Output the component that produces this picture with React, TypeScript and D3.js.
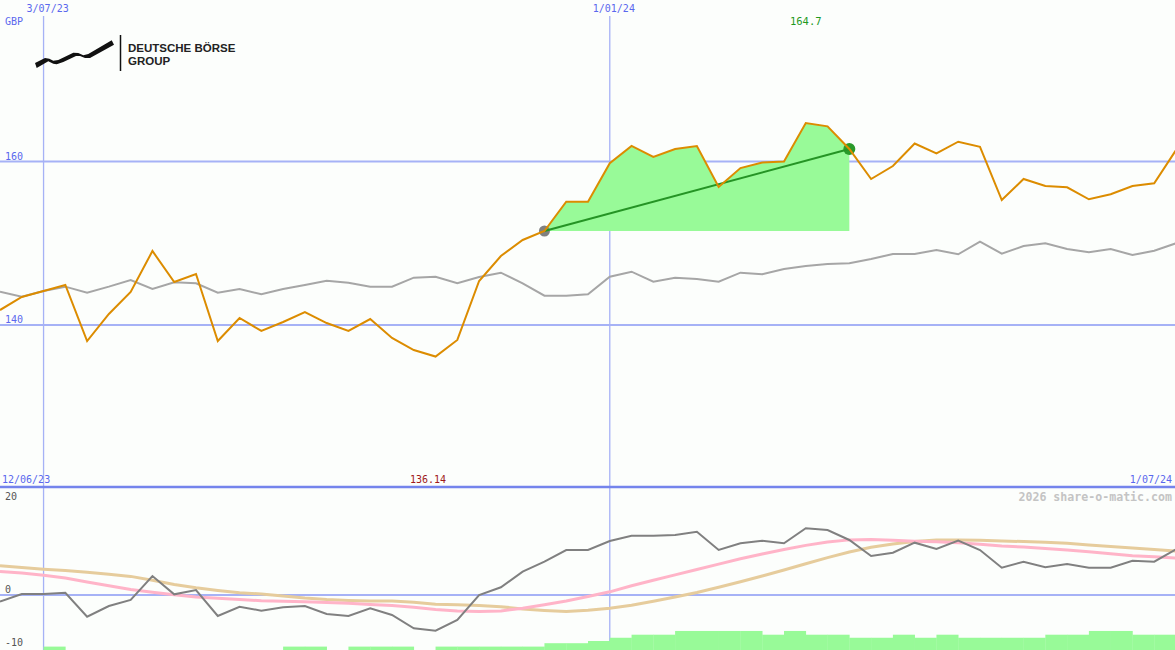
import React from "react";
import * as d3 from "d3";

// ---- data (weekly, starting Monday 19 Jun 2023) ----
const price = [
  141.83, 143.43, 144.16, 144.9, 138.04, 141.35, 144.04, 149.05, 145.26, 146.24,
  138.04, 140.86, 139.27, 140.37, 141.59, 140.24, 139.27, 140.73, 138.41, 136.94,
  136.14, 138.17, 145.38, 148.44, 150.4, 151.5, 155.08, 155.08, 159.8, 161.9,
  160.55, 161.53, 161.9, 156.88, 159.2, 159.88, 160.0, 164.7, 164.3, 161.53,
  157.86, 159.45, 162.2, 161.0, 162.42, 161.8, 155.29, 157.86, 157.0, 156.84,
  155.38, 155.99, 157.0, 157.33, 161.4,
];
const benchmark = [
  144.07, 143.46, 144.16, 144.69, 143.95, 144.69, 145.5, 144.4, 145.22, 145.1,
  143.95, 144.4, 143.76, 144.4, 144.89, 145.42, 145.17, 144.69, 144.69, 145.79,
  145.91, 145.1, 145.87, 146.4, 145.1, 143.58, 143.58, 143.76, 145.91, 146.52,
  145.3, 145.79, 145.63, 145.3, 146.4, 146.2, 146.85, 147.22, 147.46, 147.55,
  148.07, 148.69, 148.69, 149.17, 148.65, 150.19, 148.72, 149.66, 150.0, 149.3,
  148.9, 149.3, 148.56, 149.09, 150.0,
];
const momentum = [
  -1.26, 0.19, 0.19, 0.43, -4.09, -2.08, -0.94, 3.58, 0.13, 0.94,
  -3.96, -2.21, -2.96, -2.32, -2.08, -3.58, -3.96, -2.51, -3.77, -6.28,
  -6.74, -4.72, 0.0, 1.45, 4.4, 6.28, 8.49, 8.49, 10.19, 11.19,
  11.19, 11.32, 11.94, 8.49, 9.75, 10.25, 9.75, 12.6, 12.26, 10.38,
  7.36, 7.98, 9.87, 8.68, 10.25, 8.49, 5.15, 6.28, 5.23, 5.85,
  5.15, 5.15, 6.47, 6.28, 8.62,
];
const avgSlow = [
  5.53, 5.19, 4.85, 4.6, 4.28, 3.92, 3.51, 2.77, 2.0, 1.38,
  0.87, 0.43, 0.19, -0.19, -0.57, -0.85, -1.02, -1.13, -1.13, -1.38,
  -1.75, -1.85, -2.0, -2.21, -2.62, -2.92, -3.13, -2.87, -2.49, -1.94,
  -1.19, -0.38, 0.47, 1.45, 2.51, 3.58, 4.72, 5.89, 7.06, 8.11,
  9.0, 9.62, 10.08, 10.38, 10.38, 10.32, 10.19, 10.09, 9.96, 9.77,
  9.43, 9.13, 8.85, 8.57, 8.3,
];
const avgFast = [
  4.42, 4.13, 3.74, 3.21, 2.45, 1.74, 1.02, 0.53, 0.06, -0.36,
  -0.62, -0.87, -1.08, -1.19, -1.28, -1.42, -1.57, -1.77, -2.0, -2.32,
  -2.72, -3.02, -3.11, -3.02, -2.49, -1.85, -1.13, -0.3, 0.6, 1.75,
  2.77, 3.79, 4.81, 5.83, 6.85, 7.75, 8.58, 9.36, 10.0, 10.4,
  10.49, 10.32, 10.15, 10.04, 9.85, 9.57, 9.25, 9.04, 8.79, 8.51,
  8.15, 7.77, 7.42, 7.21, 6.98,
];
const bars = [
  0, 0, 1, 0, 0, 0, 0, 0, 0, 0,
  0, 0, 0, 1, 1, 0, 1, 1, 1, 0,
  1, 1, 1, 1, 1, 2, 2, 2.65, 3.6, 4.5,
  4.5, 5.6, 5.6, 5.6, 5.6, 4.5, 5.6, 4.5, 4.5, 3.6,
  3.6, 4.5, 3.6, 4.5, 3.6, 3.6, 3.6, 3.6, 4.5, 4.5,
  5.6, 5.6, 4.5, 4.5, 0,
];
const priceTicks = [160, 140];
const oscTicks = [20, 0, -10];
const gridDates = [new Date(2023, 6, 3), new Date(2024, 0, 1)];
const gridDateLabels = ["3/07/23", "1/01/24"];
const trendStart = 25;
const trendEnd = 39;
const maxLabel = "164.7";
const minLabel = "136.14";
const startLabel = "12/06/23";
const endLabel = "1/07/24";
const currency = "GBP";
const watermark = "2026 share-o-matic.com";

const W = 1175;
const H = 650;
const SEP = 487;
const MONO = "'DejaVu Sans Mono', monospace";

export default function App() {
  const start = new Date(2023, 5, 19);
  const dates = price.map((_, i) => d3.timeWeek.offset(start, i));
  const x = d3.scaleTime().domain([dates[0], dates[dates.length - 1]]).range([0, 1176]);
  const y = d3.scaleLinear().domain([140, 160]).range([325, 161.5]);
  const yo = d3.scaleLinear().domain([-10, 0]).range([648, 595]);
  const yb = d3.scaleLinear().domain([0, 1]).range([0, 3.4]);

  const line = (vals: number[], ys: d3.ScaleLinear<number, number>) =>
    d3.line<number>().x((_, i) => x(dates[i])).y((v) => ys(v))(vals) || "";

  const idx = d3.range(trendStart, trendEnd + 1);
  const area =
    d3
      .area<number>()
      .x((i) => x(dates[i]))
      .y0(y(price[trendStart]))
      .y1((i) => y(price[i]))(idx) || "";

  const x0 = x(dates[trendStart]);
  const y0 = y(price[trendStart]);
  const x1 = x(dates[trendEnd]);
  const y1 = y(price[trendEnd]);
  const step = x(dates[1]) - x(dates[0]);

  return (
    <svg
      width={W}
      height={H}
      style={{ position: "absolute", left: 0, top: 0, background: "#fcfefc" }}
    >
      <rect x={0} y={0} width={W} height={H} fill="#fcfefc" />

      {/* price grid */}
      {priceTicks.map((t) => (
        <g key={t}>
          <line x1={0} x2={W} y1={y(t)} y2={y(t)} stroke="#a6b2f6" strokeWidth={2} />
          <text x={5} y={y(t) - 2} fontFamily={MONO} fontSize={10} fill="#5a68ee">
            {t}
          </text>
        </g>
      ))}
      {/* oscillator zero */}
      <line x1={0} x2={W} y1={yo(0)} y2={yo(0)} stroke="#a6b2f6" strokeWidth={2} />

      {/* vertical date lines */}
      {gridDates.map((d, i) => (
        <g key={i}>
          <line
            x1={x(d)}
            x2={x(d)}
            y1={16}
            y2={H}
            stroke="#a6b2f6"
            strokeWidth={1.3}
          />
          <text x={x(d) - 17} y={12} fontFamily={MONO} fontSize={10} fill="#5a68ee">
            {gridDateLabels[i]}
          </text>
        </g>
      ))}

      {/* logo */}
      <g>
        <path
          d="M35,63 L45,58 L49.3,58.7 L53.3,60.7 L58.3,60 L73.3,52.7 L78.3,53 L83.3,55.3 L88.3,54 L111.7,40.3 L114,44.7 L90,58 L85,58 L80,56 L76,56 L63.3,62 L56.7,64.3 L53.3,63.7 L48.3,61.3 L36.7,68 Z"
          fill="#111"
        />
        <line x1={120.5} x2={120.5} y1={35} y2={71} stroke="#111" strokeWidth={1.5} />
        <text
          x={128}
          y={52}
          fontFamily="'Liberation Sans', Arial, sans-serif"
          fontWeight="bold"
          fontSize={11.5}
          fill="#222"
        >
          DEUTSCHE BÖRSE
        </text>
        <text
          x={128}
          y={65}
          fontFamily="'Liberation Sans', Arial, sans-serif"
          fontWeight="bold"
          fontSize={11.5}
          fill="#222"
        >
          GROUP
        </text>
      </g>

      <text x={5} y={25} fontFamily={MONO} fontSize={10} fill="#5a68ee">
        {currency}
      </text>
      <text
        x={x(dates[price.indexOf(d3.max(price) as number)])}
        y={25}
        textAnchor="middle"
        fontFamily={MONO}
        fontSize={10.5}
        fill="#1f9a1f"
      >
        {maxLabel}
      </text>

      {/* trend area */}
      <path d={area} fill="#98fa98" />
      <circle cx={x0} cy={y0} r={5.5} fill="#808080" />
      <circle cx={x1} cy={y1} r={6} fill="#2a9a2a" />
      <line x1={x0} y1={y0} x2={x1} y2={y1} stroke="#259425" strokeWidth={2} />

      {/* benchmark and price */}
      <path d={line(benchmark, y)} fill="none" stroke="#a6a6a6" strokeWidth={2} />
      <path d={line(price, y)} fill="none" stroke="#dc8c00" strokeWidth={2} />

      {/* separator */}
      <line x1={0} x2={W} y1={SEP} y2={SEP} stroke="#7484ec" strokeWidth={2.5} />
      <text x={2} y={483} fontFamily={MONO} fontSize={10} fill="#5a68ee">
        {startLabel}
      </text>
      <text x={W - 3} y={483} textAnchor="end" fontFamily={MONO} fontSize={10} fill="#5a68ee">
        {endLabel}
      </text>
      <text x={410} y={483} fontFamily={MONO} fontSize={10} fill="#a01a1a">
        {minLabel}
      </text>
      <text
        x={W - 3}
        y={501}
        textAnchor="end"
        fontFamily={MONO}
        fontWeight="bold"
        fontSize={11.6}
        fill="#c4c4c4"
      >
        {watermark}
      </text>

      {/* oscillator ticks */}
      {oscTicks.map((t) => (
        <text
          key={t}
          x={5}
          y={Math.max(yo(t) - 2, SEP + 13)}
          fontFamily={MONO}
          fontSize={10}
          fill="#555"
        >
          {t}
        </text>
      ))}

      {/* bars */}
      {bars.map((b, i) =>
        b > 0 ? (
          <rect
            key={i}
            x={x(dates[i])}
            y={H - yb(b)}
            width={step + 0.3}
            height={yb(b)}
            fill="#98fa98"
          />
        ) : null
      )}

      {/* oscillator lines */}
      <path d={line(avgSlow, yo)} fill="none" stroke="#e6cc9c" strokeWidth={3} />
      <path d={line(avgFast, yo)} fill="none" stroke="#ffb4c8" strokeWidth={3} />
      <path d={line(momentum, yo)} fill="none" stroke="#808080" strokeWidth={2} />
    </svg>
  );
}
